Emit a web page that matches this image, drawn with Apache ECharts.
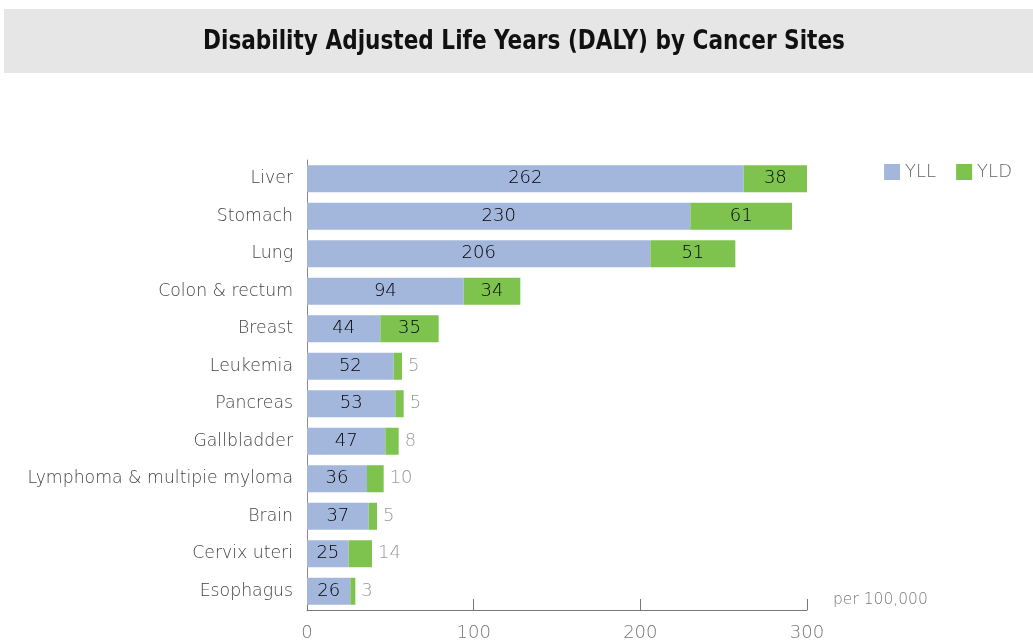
<!DOCTYPE html>
<html><head><meta charset="utf-8">
<script src="https://cdn.jsdelivr.net/npm/echarts@6/dist/echarts.min.js"></script>
<style>html,body{margin:0;padding:0;background:#fff}#c{width:1033px;height:644px}</style>
</head><body><div id="c"></div>
<script>
const categories = ["Liver","Stomach","Lung","Colon & rectum","Breast","Leukemia","Pancreas","Gallbladder","Lymphoma & multipie myloma","Brain","Cervix uteri","Esophagus"];
const yll = [262,230,206,94,44,52,53,47,36,37,25,26];
const yld = [38,61,51,34,35,5,5,8,10,5,14,3];
const xTicks = [0,100,200,300];

const font = "DejaVu Sans";
const fw = 200;
const chart = echarts.init(document.getElementById('c'));
const yldData = yld.map(v => v >= 30
  ? {value: v, label: {position: 'inside', color: '#000'}}
  : {value: v, label: {position: 'right', color: '#999', distance: 6}});
chart.setOption({
  animation: false,
  graphic: [
    {type: 'rect', left: 4, top: 9, shape: {width: 1029, height: 64}, style: {fill: '#e6e6e6'}, z: 0},
    {type: 'text', x: 524, y: 28, scaleX: 0.89, style: {text: 'Disability Adjusted Life Years (DALY) by Cancer Sites', font: 'bold 27px "DejaVu Sans Condensed"', fill: '#111', textAlign: 'center', textVerticalAlign: 'top'}, z: 1},
    {type: 'text', left: 833, top: 592, style: {text: 'per 100,000', font: '200 15.5px "DejaVu Sans"', fill: '#777'}}
  ],
  legend: {
    right: 16, top: 158, itemWidth: 16, itemHeight: 16, itemGap: 20, icon: 'rect',
    textStyle: {fontFamily: font, fontWeight: fw, fontSize: 18, color: '#666'},
    data: ['YLL','YLD']
  },
  grid: {left: 307, right: 226, top: 160, bottom: 34},
  xAxis: {
    type: 'value', min: xTicks[0], max: xTicks[xTicks.length-1], interval: 100,
    axisLine: {show: true, lineStyle: {color: '#777'}},
    axisTick: {show: true, inside: true, length: 11, lineStyle: {color: '#777'}},
    splitLine: {show: false},
    axisLabel: {fontFamily: font, fontWeight: fw, fontSize: 18, color: '#777', margin: 14}
  },
  yAxis: {
    type: 'category', data: categories, inverse: true,
    axisLine: {show: true, lineStyle: {color: '#888'}},
    axisTick: {show: false},
    axisLabel: {fontFamily: font, fontWeight: fw, fontSize: 17.3, color: '#444', margin: 14}
  },
  series: [
    {name: 'YLL', type: 'bar', stack: 'a', data: yll, barCategoryGap: '28%',
     itemStyle: {color: '#a3b7dd'},
     label: {show: true, position: 'inside', fontFamily: font, fontWeight: fw, fontSize: 18, color: '#000'}},
    {name: 'YLD', type: 'bar', stack: 'a', data: yldData,
     itemStyle: {color: '#7dc34d'},
     label: {show: true, fontFamily: font, fontWeight: fw, fontSize: 18}}
  ]
});
</script></body></html>
